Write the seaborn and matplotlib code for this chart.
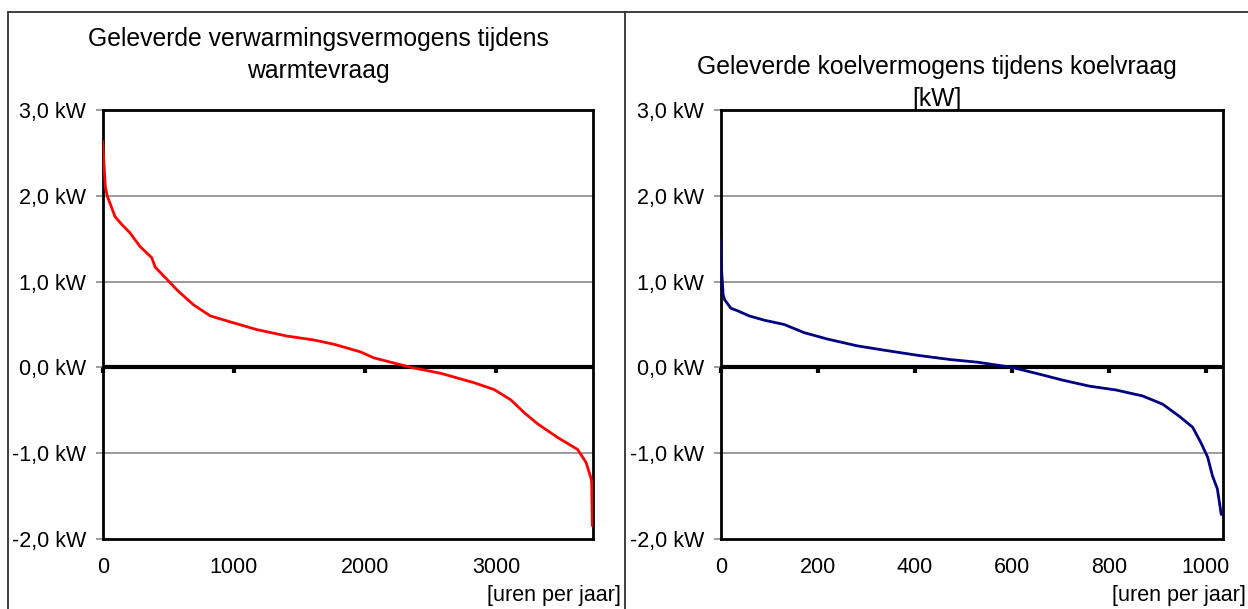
import matplotlib
matplotlib.use("Agg")
import matplotlib.pyplot as plt
import seaborn as sns
from matplotlib.lines import Line2D

# Gesorteerde vermogens (belastingsduurkrommen)
heat_hours = [0, 10, 20, 35, 94, 145, 208, 285, 374, 400, 488, 575, 692, 820, 995,
              1175, 1404, 1606, 1760, 1964, 2066, 2295, 2345, 2575, 2829, 2982, 3109,
              3211, 3313, 3466, 3618, 3682, 3715, 3725, 3730]
heat_kw = [2.64, 2.37, 2.11, 2.0, 1.76, 1.67, 1.57, 1.41, 1.28, 1.17, 1.03, 0.89, 0.73,
           0.60, 0.52, 0.44, 0.365, 0.32, 0.27, 0.18, 0.11, 0.02, 0.0, -0.07, -0.18,
           -0.26, -0.38, -0.53, -0.66, -0.82, -0.96, -1.11, -1.27, -1.33, -1.85]

cool_hours = [0, 2, 5, 8, 21, 35, 59, 90, 131, 172, 220, 282, 337, 406, 474, 529, 600,
              657, 705, 760, 815, 870, 911, 945, 973, 990, 1004, 1014, 1024, 1032]
cool_kw = [1.49, 1.12, 0.85, 0.79, 0.69, 0.66, 0.60, 0.55, 0.50, 0.405, 0.33, 0.25,
           0.20, 0.14, 0.09, 0.06, 0.0, -0.08, -0.15, -0.22, -0.265, -0.335, -0.43,
           -0.57, -0.70, -0.88, -1.05, -1.27, -1.42, -1.72]

y_ticks = [3, 2, 1, 0, -1, -2]
y_labels = ["3,0 kW", "2,0 kW", "1,0 kW", "0,0 kW", "-1,0 kW", "-2,0 kW"]
heat_xticks = [0, 1000, 2000, 3000]
cool_xticks = [0, 200, 400, 600, 800, 1000]

heat_title = "Geleverde verwarmingsvermogens tijdens\nwarmtevraag"
cool_title = "Geleverde koelvermogens tijdens koelvraag\n[kW]"
x_label = "[uren per jaar]"

sns.set_style("white")
plt.rcParams['font.family'] = ['Liberation Sans', 'DejaVu Sans']
plt.rcParams['text.color'] = 'black'
plt.rcParams['xtick.color'] = 'black'
plt.rcParams['ytick.color'] = 'black'
plt.rcParams['axes.labelcolor'] = 'black'

W, H = 1248, 609
fig = plt.figure(figsize=(W / 100, H / 100), dpi=100)

# axes in pixels: left, top, right, bottom
boxes = [(102.7, 110.5, 592.7, 538.5), (720.7, 110.5, 1222.7, 538.5)]
axes = []
for (l, t, r, b) in boxes:
    axes.append(fig.add_axes([l / W, 1 - b / H, (r - l) / W, (b - t) / H]))


def style_axis(ax, xmax, xticks, color, hours, kw, label_off):
    sns.lineplot(x=hours, y=kw, ax=ax, color=color, linewidth=2.0, zorder=4)
    ax.set_xlim(0, xmax)
    ax.set_ylim(-2, 3)
    ax.set_yticks(y_ticks)
    ax.set_yticklabels(y_labels)
    ax.set_xticks(xticks)
    ax.set_xticklabels([str(v) for v in xticks])
    for v in [2, 1, -1]:
        ax.axhline(v, color="#808080", linewidth=1.1, zorder=1)
    ax.axhline(0, color="black", linewidth=3.0, zorder=3)
    for s in ax.spines.values():
        s.set_color("black")
        s.set_linewidth(2.0)
        s.set_visible(True)
    ax.tick_params(axis="y", left=True, length=5, width=1.1, color="#808080",
                   pad=7, labelsize=15.5, labelcolor="black")
    ax.tick_params(axis="x", bottom=False, length=0, pad=13, labelsize=15.5,
                   labelcolor="black")
    # tick marks along the zero line
    sec = ax.secondary_xaxis(0.4)
    sec.set_xticks(xticks)
    sec.tick_params(axis="x", direction="out", length=4, width=3, color="black",
                    labelbottom=False)
    sec.spines["bottom"].set_visible(False)
    ax.set_xlabel(x_label, fontsize=15.5, ha="right", va="center", color="black")
    ax.xaxis.set_label_coords(1 + label_off / (ax.bbox.width), -(595 - 538.5) / 428)
    ax.set_ylabel("")


style_axis(axes[0], 3733, heat_xticks, "#ff0000", heat_hours, heat_kw, 28)
style_axis(axes[1], 1035, cool_xticks, "#000080", cool_hours, cool_kw, 23)

fig.text(318 / W, 1 - 55 / H, heat_title, ha="center", va="center",
         fontsize=17.8, linespacing=1.4)
fig.text(937 / W, 1 - 83 / H, cool_title, ha="center", va="center",
         fontsize=17.8, linespacing=1.4)

# chart area frames
top_y = 1 - 11.5 / H
fig.add_artist(Line2D([8 / W, 1], [top_y, top_y], color="#303030", linewidth=1.3))
fig.add_artist(Line2D([8 / W, 8 / W], [0, top_y], color="#303030", linewidth=1.3))
fig.add_artist(Line2D([625 / W, 625 / W], [0, top_y], color="#303030", linewidth=1.3))

fig.savefig("out.png", dpi=100, facecolor="white")
